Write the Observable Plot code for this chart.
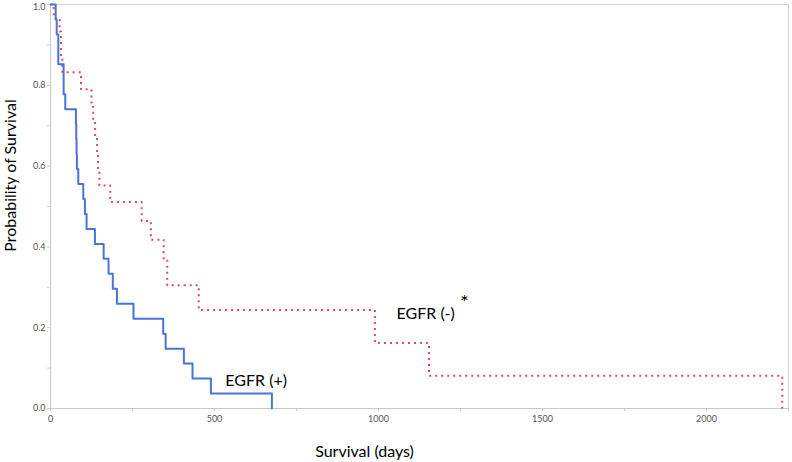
<!DOCTYPE html>
<html>
<head>
<meta charset="utf-8">
<script src="https://cdn.jsdelivr.net/npm/d3@7"></script>
<script src="https://cdn.jsdelivr.net/npm/@observablehq/plot@0.6"></script>
<style>
  html, body { margin: 0; padding: 0; background: #fff; }
  #chart { width: 792px; height: 462px; }
</style>
</head>
<body>
<div id="chart"></div>
<script>
// EGFR (+) : survival times (days) and survival probability (k/27)
const posDays = [0, 15.8, 18.9, 23.8, 40, 45, 77.5, 78.5, 79.5, 80.5, 84.7, 100, 105, 110, 135.5, 162, 177, 190, 202.5, 253, 343.6, 351, 406.6, 433, 489, 675];
const posSurv = [1, 26/27, 25/27, 23/27, 21/27, 20/27, 19/27, 18/27, 17/27, 16/27, 15/27, 14/27, 13/27, 12/27, 11/27, 10/27, 9/27, 8/27, 7/27, 6/27, 5/27, 4/27, 3/27, 2/27, 1/27, 0];

// EGFR (-)
const negDays = [0, 10, 28, 32, 36, 93, 125, 130, 136, 142, 145, 149, 182, 278, 306, 345, 356, 452, 989, 1154, 2231];
const negSurv = [1, 0.966, 0.933, 0.866, 0.832, 0.79, 0.75, 0.71, 0.67, 0.63, 0.59, 0.552, 0.511, 0.464, 0.418, 0.366, 0.305, 0.244, 0.162, 0.081, 0];

const xTicks = [0, 500, 1000, 1500, 2000];
const xMinor = [250, 750, 1250, 1750, 2250];
const yTicks = [0, 0.2, 0.4, 0.6, 0.8];
const yTop = [1.0];
const yMinor = [0.1, 0.3, 0.5, 0.7, 0.9, 1.0];

const labels = ["EGFR (+)", "EGFR (-)", "*"];
const xTitle = "Survival (days)";
const yTitle = "Probability of Survival";

const pos = posDays.map((d, i) => ({t: d, s: posSurv[i]}));
const neg = negDays.map((d, i) => ({t: d, s: negSurv[i]}));

const font = "Lato, 'Open Sans', sans-serif";

const chart = Plot.plot({
  width: 792,
  height: 462,
  marginLeft: 50,
  marginRight: 4,
  marginTop: 4,
  marginBottom: 54,
  style: {fontFamily: font, background: "#fff"},
  x: {domain: [0, 2250]},
  y: {domain: [0, 1]},
  marks: [
    Plot.frame({stroke: "#d4d4d4"}),
    Plot.axisX({ticks: xMinor, tickSize: 3, text: null, label: null, stroke: "#d0d0d0"}),
    Plot.axisX({ticks: xTicks, tickSize: 3, tickPadding: 4, tickFormat: d3.format("d"), label: null, fontSize: 9, color: "#555", stroke: "#c8c8c8"}),
    Plot.axisY({ticks: yMinor, tickSize: 3, text: null, label: null, stroke: "#d0d0d0"}),
    Plot.axisY({ticks: yTicks, tickSize: 3, tickPadding: 2, tickFormat: d3.format(".1f"), label: null, fontSize: 9, color: "#555", stroke: "#c8c8c8"}),
    Plot.axisY({ticks: yTop, tickSize: 0, tickPadding: 5, tickFormat: d3.format(".1f"), label: null, fontSize: 9, color: "#555", dy: 3}),
    Plot.ruleX([0], {stroke: "#c8c8c8"}),
    Plot.ruleY([0], {stroke: "#c8c8c8"}),
    Plot.line(neg, {x: "t", y: "s", curve: "step-after", stroke: "#dc4a66", strokeWidth: 2, strokeDasharray: "2,4", strokeLinecap: "butt"}),
    Plot.line(pos, {x: "t", y: "s", curve: "step-after", stroke: "#4a74d6", strokeWidth: 2}),
    Plot.text([labels[0]], {x: 533, y: 0.069, textAnchor: "start", lineAnchor: "middle", fontSize: 16, fill: "#000"}),
    Plot.text([labels[1]], {x: 1055, y: 0.233, textAnchor: "start", lineAnchor: "middle", fontSize: 16, fill: "#000"}),
    Plot.text([labels[2]], {x: 1262, y: 0.262, textAnchor: "middle", lineAnchor: "middle", fontSize: 20, fill: "#000"}),
    Plot.text([xTitle], {frameAnchor: "bottom", dx: -55, dy: 43, textAnchor: "middle", lineAnchor: "middle", fontSize: 16, fill: "#000"}),
    Plot.text([yTitle], {frameAnchor: "left", dx: -40, dy: -31, rotate: -90, textAnchor: "middle", lineAnchor: "middle", fontSize: 16, fill: "#000"})
  ]
});
document.getElementById("chart").appendChild(chart);
</script>
</body>
</html>
